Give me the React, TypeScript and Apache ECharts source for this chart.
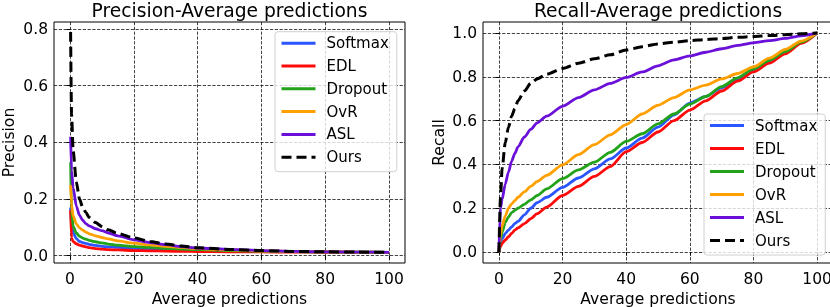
import React, { useEffect, useRef } from "react";
import * as echarts from "echarts";

const methods = ["Softmax", "EDL", "Dropout", "OvR", "ASL", "Ours"];
const methodColors = ["#2b55ff", "#ff0a0a", "#22a31a", "#ffa000", "#6b10d8", "#000000"];

const xTicks = [0, 20, 40, 60, 80, 100];
const precisionTicks = [0, 0.2, 0.4, 0.6, 0.8];
const recallTicks = [0, 0.2, 0.4, 0.6, 0.8, 1.0];

// Precision vs average predictions
const precisionX = [0.2, 0.5, 1, 2, 3, 4, 5, 6, 8, 10, 12, 15, 20, 25, 30, 35, 40, 50, 60, 70, 80, 90, 100];
const precisionSoftmax = [0.17, 0.1, 0.08, 0.06, 0.05, 0.046, 0.043, 0.04, 0.036, 0.033, 0.031, 0.029, 0.026, 0.023, 0.021, 0.019, 0.018, 0.016, 0.015, 0.014, 0.013, 0.0122, 0.0117];
const precisionEDL = [0.16, 0.062, 0.05, 0.042, 0.037, 0.034, 0.031, 0.028, 0.025, 0.023, 0.021, 0.02, 0.018, 0.017, 0.016, 0.015, 0.0145, 0.0135, 0.013, 0.0125, 0.012, 0.0118, 0.0115];
const precisionDropout = [0.33, 0.16, 0.103, 0.08, 0.068, 0.062, 0.058, 0.054, 0.049, 0.045, 0.041, 0.037, 0.032, 0.029, 0.026, 0.023, 0.021, 0.018, 0.016, 0.014, 0.013, 0.0122, 0.0117];
const precisionOvR = [0.25, 0.18, 0.14, 0.112, 0.098, 0.09, 0.083, 0.077, 0.07, 0.064, 0.059, 0.052, 0.044, 0.038, 0.033, 0.029, 0.025, 0.02, 0.017, 0.015, 0.0135, 0.0125, 0.0117];
const precisionASL = [0.42, 0.3, 0.24, 0.175, 0.142, 0.125, 0.113, 0.105, 0.095, 0.088, 0.08, 0.07, 0.056, 0.046, 0.039, 0.032, 0.027, 0.022, 0.018, 0.015, 0.0135, 0.0125, 0.0117];
const precisionOurs = [0.79, 0.5, 0.37, 0.26, 0.2, 0.17, 0.152, 0.135, 0.117, 0.103, 0.091, 0.078, 0.063, 0.05, 0.041, 0.034, 0.028, 0.022, 0.018, 0.015, 0.0135, 0.0125, 0.0117];

// Recall vs average predictions
const recallX = [0, 0.5, 1, 2, 3, 4, 5, 6, 8, 10, 12, 15, 20, 25, 30, 35, 40, 45, 50, 55, 60, 65, 70, 75, 80, 85, 90, 95, 100];
const recallSoftmax = [0, 0.04, 0.06, 0.085, 0.1, 0.115, 0.13, 0.14, 0.17, 0.2, 0.225, 0.25, 0.295, 0.338, 0.38, 0.425, 0.475, 0.52, 0.57, 0.625, 0.68, 0.71, 0.75, 0.79, 0.828, 0.87, 0.912, 0.956, 1.0];
const recallEDL = [0, 0.025, 0.04, 0.055, 0.07, 0.085, 0.1, 0.11, 0.13, 0.152, 0.175, 0.205, 0.258, 0.3, 0.345, 0.39, 0.458, 0.5, 0.548, 0.6, 0.648, 0.69, 0.735, 0.78, 0.822, 0.862, 0.905, 0.952, 1.0];
const recallDropout = [0, 0.06, 0.09, 0.135, 0.16, 0.18, 0.19, 0.2, 0.218, 0.238, 0.258, 0.288, 0.335, 0.375, 0.41, 0.455, 0.505, 0.54, 0.585, 0.63, 0.675, 0.71, 0.755, 0.795, 0.835, 0.875, 0.915, 0.958, 1.0];
const recallOvR = [0, 0.08, 0.12, 0.165, 0.2, 0.22, 0.235, 0.25, 0.275, 0.3, 0.322, 0.35, 0.398, 0.445, 0.49, 0.535, 0.582, 0.63, 0.67, 0.705, 0.74, 0.762, 0.79, 0.815, 0.845, 0.885, 0.925, 0.963, 1.0];
const recallASL = [0, 0.2, 0.24, 0.31, 0.365, 0.415, 0.45, 0.48, 0.525, 0.56, 0.59, 0.62, 0.665, 0.705, 0.74, 0.77, 0.797, 0.822, 0.85, 0.877, 0.895, 0.912, 0.928, 0.943, 0.955, 0.965, 0.975, 0.987, 1.0];
const recallOurs = [0, 0.25, 0.38, 0.5, 0.57, 0.62, 0.655, 0.69, 0.735, 0.77, 0.79, 0.812, 0.838, 0.862, 0.882, 0.9, 0.922, 0.937, 0.95, 0.958, 0.965, 0.97, 0.975, 0.98, 0.984, 0.988, 0.992, 0.996, 1.0];

const precisionData = [precisionSoftmax, precisionEDL, precisionDropout, precisionOvR, precisionASL, precisionOurs];
const recallData = [recallSoftmax, recallEDL, recallDropout, recallOvR, recallASL, recallOurs];

const FONT = "DejaVu Sans";

function makeSeries(idx: number, axis: number, xs: number[], ys: number[]) {
  const dashed = methods[idx] === "Ours";
  return {
    type: "line",
    name: methods[idx],
    xAxisIndex: axis,
    yAxisIndex: axis,
    data: xs.map((x, i) => [x, ys[i]]),
    symbol: "none",
    showSymbol: false,
    smooth: 0.25,
    smoothMonotone: "x",
    lineStyle: {
      color: methodColors[idx],
      width: dashed ? 3 : 2.8,
      type: dashed ? [10, 5] : "solid",
      cap: "butt",
    },
    itemStyle: { color: methodColors[idx] },
    emphasis: { disabled: true },
    z: 2 + idx,
  };
}

function xAxisCfg(gridIndex: number) {
  return {
    type: "value",
    gridIndex,
    min: -5,
    max: 105,
    name: "Average predictions",
    nameLocation: "middle",
    nameGap: 21,
    nameTextStyle: { fontSize: 15.6, color: "#000", fontFamily: FONT },
    axisLine: { show: false },
    axisTick: { show: true, inside: false, length: 3.5, customValues: xTicks, lineStyle: { color: "#000", width: 1 } },
    axisLabel: { customValues: xTicks, fontSize: 15.5, color: "#000", margin: 7.5, fontFamily: FONT, formatter: (v: number) => String(Math.round(v)) },
    splitLine: { show: true, lineStyle: { color: "#111", width: 0.8, type: [3.2, 1.6] } },
  };
}

function yAxisCfg(gridIndex: number, name: string, min: number, max: number, ticks: number[], gap: number) {
  return {
    type: "value",
    gridIndex,
    min,
    max,
    name,
    nameLocation: "middle",
    nameGap: gap,
    nameRotate: 90,
    nameTextStyle: { fontSize: 15.6, color: "#000", fontFamily: FONT },
    axisLine: { show: false },
    axisTick: { show: true, inside: false, length: 3.5, customValues: ticks, lineStyle: { color: "#000", width: 1 } },
    axisLabel: { customValues: ticks, fontSize: 15.5, color: "#000", margin: 6, fontFamily: FONT, formatter: (v: number) => v.toFixed(1) },
    splitLine: { show: true, lineStyle: { color: "#111", width: 0.8, type: [3.2, 1.6] } },
  };
}

function legendCfg(left: number, top: number, gap: number, padLeft: number) {
  return {
    show: true,
    orient: "vertical",
    left,
    top,
    data: methods,
    itemWidth: 34,
    itemHeight: 15,
    itemGap: gap,
    padding: [4, 8, 7, padLeft],
    backgroundColor: "rgba(255,255,255,0.8)",
    borderColor: "#d0d0d0",
    borderWidth: 1,
    borderRadius: 3,
    selectedMode: false,
    itemStyle: { opacity: 0 },
    lineStyle: { width: 3 },
    textStyle: { fontSize: 15, color: "#000", fontFamily: FONT, lineHeight: 15, padding: [0, 0, 0, 6] },
  };
}

export default function App() {
  const ref = useRef<HTMLDivElement>(null);
  useEffect(() => {
    if (!ref.current) return;
    const chart = echarts.init(ref.current, undefined, { renderer: "svg" });
    const series: any[] = [];
    precisionData.forEach((ys, i) => series.push(makeSeries(i, 0, precisionX, ys)));
    recallData.forEach((ys, i) => series.push(makeSeries(i, 1, recallX, ys)));
    const titleStyle = { fontSize: 18.7, fontWeight: "normal", color: "#000", fontFamily: FONT };
    chart.setOption({
      animation: false,
      textStyle: { fontFamily: FONT },
      title: [
        { text: "Precision-Average predictions", left: 229.5, top: 1, padding: 0, textAlign: "center", textStyle: titleStyle },
        { text: "Recall-Average predictions", left: 658, top: 1, padding: 0, textAlign: "center", textStyle: titleStyle },
      ],
      grid: [
        { left: 54, top: 22, width: 351, height: 241, show: true, borderColor: "#000", borderWidth: 1, backgroundColor: "transparent", containLabel: false, outerBoundsMode: "none" },
        { left: 483, top: 22, width: 350, height: 241, show: true, borderColor: "#000", borderWidth: 1, backgroundColor: "transparent", containLabel: false, outerBoundsMode: "none" },
      ],
      xAxis: [xAxisCfg(0), xAxisCfg(1)],
      yAxis: [
        yAxisCfg(0, "Precision", -0.026, 0.825, precisionTicks, 37),
        yAxisCfg(1, "Recall", -0.05, 1.05, recallTicks, 36),
      ],
      legend: [legendCfg(275, 31.7, 7.8, 5), legendCfg(704, 114, 8, 4.5)],
      series,
    });
    return () => chart.dispose();
  }, []);
  return <div ref={ref} style={{ position: "fixed", left: 0, top: 0, width: 836, height: 307 }} />;
}
